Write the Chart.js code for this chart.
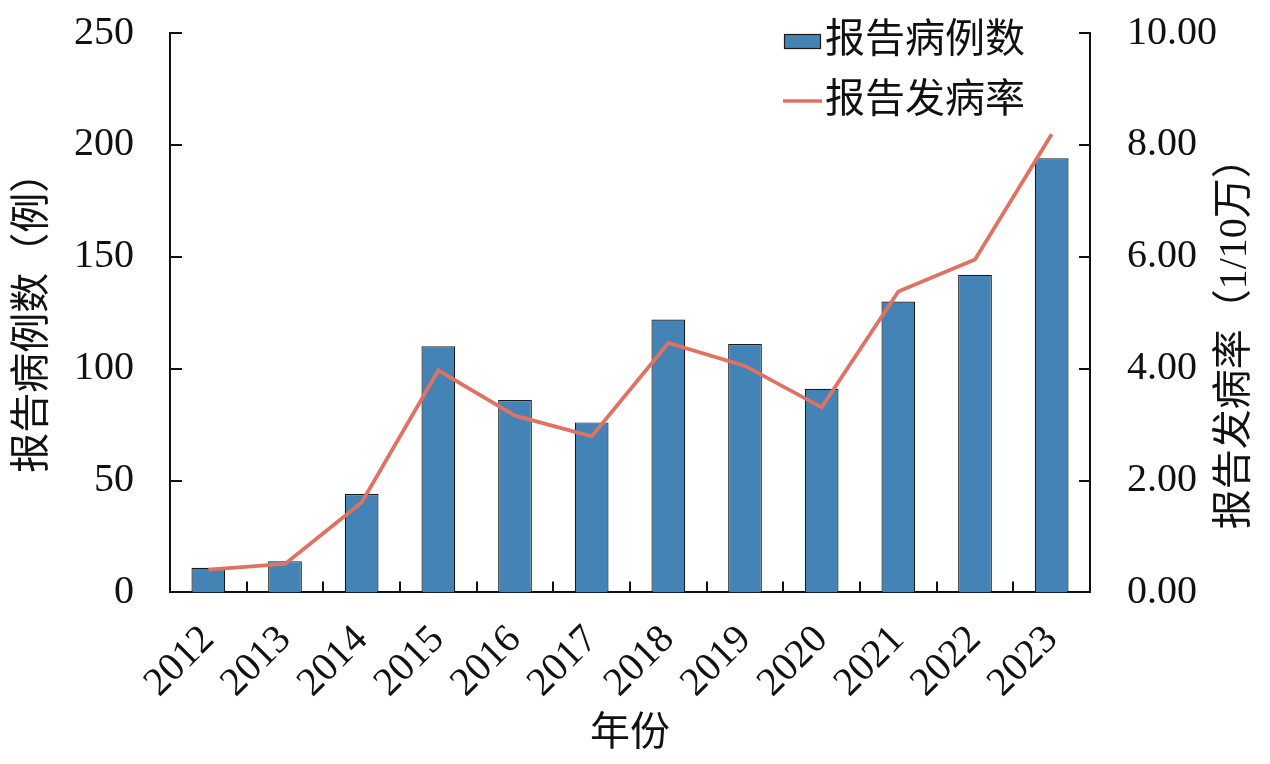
<!DOCTYPE html>
<html><head><meta charset="utf-8">
<script src="https://cdn.jsdelivr.net/npm/chart.js@4.4.1/dist/chart.umd.min.js"></script>
<style>html,body{margin:0;padding:0;background:#fff}#wrap{width:1270px;height:764px}</style>
</head><body><div id="wrap"><canvas id="c" width="1270" height="764"></canvas></div>
<script>
const years = ['2012','2013','2014','2015','2016','2017','2018','2019','2020','2021','2022','2023'];
const reportedCases = [11,14,44,110,86,76,122,111,91,130,142,194];
const incidenceRate = [0.41,0.51,1.61,3.97,3.16,2.79,4.46,4.05,3.31,5.38,5.95,8.19];
const casesLabel = '报告病例数';
const rateLabel = '报告发病率';
const xTitle = '年份';
const leftTitle = '报告病例数（例）';
const rightTitle = '报告发病率（1/10万）';
const leftMax = 250, leftStep = 50;
const rightMax = 10, rightStep = 2;

const FONT = '"Liberation Serif","Noto Sans CJK SC"';
const INK = '#111';
const BAR = '#4383b6';
const LINE = '#e07264';

const extras = {
  id: 'extras',
  afterDraw(chart) {
    const {ctx, chartArea: a, scales: {x, y, y2}} = chart;
    ctx.save();
    ctx.strokeStyle = INK; ctx.lineWidth = 2;
    ctx.beginPath();
    y.ticks.forEach(t => { if (t.value === 0) return; const p = Math.round(y.getPixelForValue(t.value)); ctx.moveTo(a.left, p); ctx.lineTo(a.left + 12, p); });
    y2.ticks.forEach(t => { if (t.value === 0) return; const p = Math.round(y2.getPixelForValue(t.value)); ctx.moveTo(a.right, p); ctx.lineTo(a.right - 11, p); });
    for (let i = 0; i < years.length - 1; i++) {
      const p = Math.round((x.getPixelForValue(i) + x.getPixelForValue(i + 1)) / 2);
      ctx.moveTo(p, a.bottom); ctx.lineTo(p, a.bottom - 11);
    }
    ctx.stroke();
    // legend
    const ds = chart.data.datasets;
    const lx = a.right - 306;
    const r1 = a.top + 8, r2 = a.top + 68;
    ctx.fillStyle = ds[0].backgroundColor;
    ctx.fillRect(lx, r1 - 7, 37, 15);
    ctx.lineWidth = 1.2; ctx.strokeStyle = '#1a1a1a';
    ctx.strokeRect(lx + 0.5, r1 - 6.5, 36, 14);
    ctx.strokeStyle = ds[1].borderColor; ctx.lineWidth = 3.5;
    ctx.beginPath(); ctx.moveTo(lx - 1, r2); ctx.lineTo(lx + 38, r2); ctx.stroke();
    ctx.fillStyle = INK;
    ctx.font = '40px ' + FONT;
    ctx.textAlign = 'left'; ctx.textBaseline = 'middle';
    ctx.fillText(ds[0].label, lx + 41, r1);
    ctx.fillText(ds[1].label, lx + 41, r2);
    // right axis title (reads bottom to top)
    ctx.font = '40px ' + FONT;
    ctx.translate(chart.width - 35, (a.top + a.bottom) / 2 + 21);
    ctx.rotate(-Math.PI / 2);
    ctx.textAlign = 'center';
    ctx.fillText(rightTitle, 0, 0);
    ctx.restore();
  }
};

const trimPad = s => { s.paddingTop = 0; s.paddingBottom = 0; };

new Chart(document.getElementById('c'), {
  data: {
    labels: years,
    datasets: [
      { type: 'bar', label: casesLabel, data: reportedCases, yAxisID: 'y', order: 1,
        backgroundColor: BAR, borderColor: '#1a1a1a', borderWidth: 1.2,
        categoryPercentage: 0.88, barPercentage: 0.5 },
      { type: 'line', label: rateLabel, data: incidenceRate, yAxisID: 'y2', order: 0,
        borderColor: LINE, backgroundColor: LINE, borderWidth: 3.8, pointRadius: 0, tension: 0 }
    ]
  },
  options: {
    responsive: false, animation: false, devicePixelRatio: 1,
    layout: { padding: { left: 0, right: 16, top: 33, bottom: 0 } },
    plugins: { legend: { display: false }, tooltip: { enabled: false } },
    scales: {
      x: {
        grid: { display: false, drawTicks: false, offset: true },
        border: { display: true, color: INK, width: 2 },
        ticks: { color: INK, font: { family: FONT, size: 40 }, minRotation: 45, maxRotation: 45, padding: 24, autoSkip: false },
        title: { display: true, text: xTitle, color: INK, font: { family: FONT, size: 40, lineHeight: 1 }, padding: { top: -17, bottom: 10 } }
      },
      y: {
        position: 'left', min: 0, max: leftMax, afterFit: trimPad,
        grid: { display: false, drawTicks: false },
        border: { display: true, color: INK, width: 2 },
        ticks: { stepSize: leftStep, color: INK, font: { family: FONT, size: 40 }, padding: 36 },
        title: { display: true, text: leftTitle, color: INK, font: { family: FONT, size: 40, lineHeight: 1 }, padding: { top: 13, bottom: -15 } }
      },
      y2: {
        position: 'right', min: 0, max: rightMax, afterFit: trimPad,
        grid: { display: false, drawTicks: false },
        border: { display: true, color: INK, width: 2 },
        ticks: { stepSize: rightStep, color: INK, font: { family: FONT, size: 40 }, padding: 37,
                 callback: v => Number(v).toFixed(2) }
      }
    }
  },
  plugins: [extras]
});
</script>
</body></html>
